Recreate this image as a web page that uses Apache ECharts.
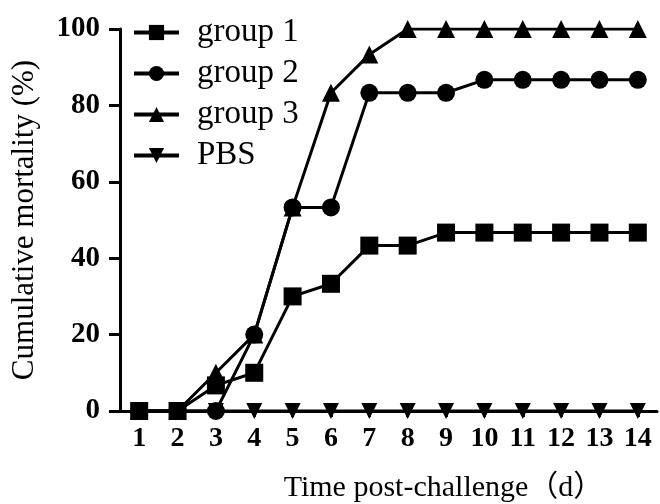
<!DOCTYPE html>
<html>
<head>
<meta charset="utf-8">
<script src="https://cdn.jsdelivr.net/npm/echarts@6/dist/echarts.min.js"></script>
<style>html,body{margin:0;padding:0;background:#fff;}#chart{width:660px;height:504px;}</style>
</head>
<body>
<div id="chart"></div>
<script>
const days = ['1','2','3','4','5','6','7','8','9','10','11','12','13','14'];
const group1 = [0, 0, 6.7, 10, 30, 33.3, 43.3, 43.3, 46.7, 46.7, 46.7, 46.7, 46.7, 46.7];
const group2 = [0, 0, 0, 20, 53.3, 53.3, 83.3, 83.3, 83.3, 86.7, 86.7, 86.7, 86.7, 86.7];
const group3 = [0, 0, 10, 20, 53.3, 83.3, 93.3, 100, 100, 100, 100, 100, 100, 100];
const pbs = [0, 0, 0, 0, 0, 0, 0, 0, 0, 0, 0, 0, 0, 0];
const yTicks = [0, 20, 40, 60, 80, 100];

const serif = '"Liberation Serif", "Times New Roman", "Noto Sans CJK SC", serif';
const chart = echarts.init(document.getElementById('chart'));
function mk(name, data, symbol, size) {
  return {
    name: name, type: 'line', data: data, symbol: symbol, symbolSize: size,
    showAllSymbol: true,
    lineStyle: { color: '#000', width: 3 },
    itemStyle: { color: '#000' },
    emphasis: { disabled: true },
    animation: false
  };
}
chart.setOption({
  animation: false,
  backgroundColor: '#fff',
  grid: { left: 120, right: 3, top: 29, bottom: 93, containLabel: false, outerBoundsMode: 'none' },
  legend: {
    orient: 'vertical', left: 127, top: 10,
    itemWidth: 45, itemHeight: 19, itemGap: 6,
    lineStyle: { width: 4, color: '#000' },
    textStyle: { fontFamily: serif, fontSize: 33, color: '#000', padding: [0, 0, 0, 13], lineHeight: 35 },
    data: ['group 1', 'group 2', 'group 3', 'PBS']
  },
  xAxis: {
    type: 'category', data: days, boundaryGap: true,
    axisLine: { lineStyle: { color: '#000', width: 3 } },
    axisTick: { show: true, alignWithLabel: true, length: 6, lineStyle: { color: '#000', width: 3 } },
    axisLabel: { color: '#000', fontFamily: serif, fontWeight: 'bold', fontSize: 28, margin: 14, interval: 0 },
    name: 'Time post-challenge（d）', nameLocation: 'middle', nameGap: 62,
    nameTextStyle: { fontFamily: serif, fontSize: 30, color: '#000', padding: [0, 0, 0, 110] }
  },
  yAxis: {
    type: 'value', min: 0, max: 100, interval: 20,
    axisLine: { show: true, lineStyle: { color: '#000', width: 3 } },
    axisTick: { show: true, length: 11, lineStyle: { color: '#000', width: 3 } },
    splitLine: { show: false },
    axisLabel: { color: '#000', fontFamily: serif, fontWeight: 'bold', fontSize: 29, margin: 20,
      formatter: function (v) { return yTicks.indexOf(v) >= 0 ? String(v) : ''; } },
    name: 'Cumulative mortality (%)', nameLocation: 'middle', nameGap: 80,
    nameTextStyle: { fontFamily: serif, fontSize: 31, color: '#000' }
  },
  series: [
    mk('group 1', group1, 'rect', 18),
    mk('group 2', group2, 'circle', 18),
    mk('group 3', group3, 'triangle', 18),
    mk('PBS', pbs, 'path://M0,0 L10,0 L5,9 Z', 16)
  ]
});
</script>
</body>
</html>
